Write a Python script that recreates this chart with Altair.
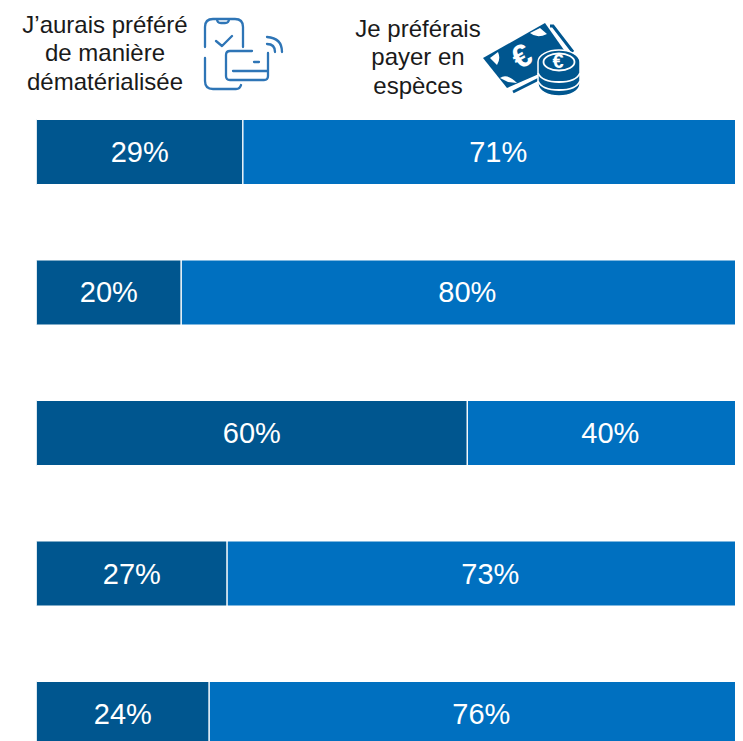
import altair as alt
import pandas as pd

rows = ["Ligne 1", "Ligne 2", "Ligne 3", "Ligne 4", "Ligne 5"]
digital = [28.8, 20.2, 60.1, 26.6, 24.1]
cash = [71.2, 79.8, 39.9, 73.4, 75.9]
series_names = ["J’aurais préféré de manière dématérialisée", "Je préférais payer en espèces"]
colors = ["#00568F", "#0070C0"]
header_left = "J’aurais préféré\nde manière\ndématérialisée"
header_right = "Je préférais\npayer en\nespèces"

FONT = "Liberation Sans"
ICON_LINE = "#2E75B6"
ICON_FILL = "#00568F"


def ellipse(cx, cy, rx, ry):
    k = 0.5523
    return (
        f"M{cx-rx} {cy}C{cx-rx} {cy-k*ry} {cx-k*rx} {cy-ry} {cx} {cy-ry}"
        f"C{cx+k*rx} {cy-ry} {cx+rx} {cy-k*ry} {cx+rx} {cy}"
        f"C{cx+rx} {cy+k*ry} {cx+k*rx} {cy+ry} {cx} {cy+ry}"
        f"C{cx-k*rx} {cy+ry} {cx-rx} {cy+k*ry} {cx-rx} {cy}Z"
    )


# Icon outlines (size=4 makes one path unit equal one pixel)
phone = (
    "M205 47V27Q205 19 213 19H235Q243 19 243 27V47"
    "M217 19Q217 23 221 23H225Q229 23 229 19"
    "M205 58V81Q205 89 213 89H236Q240 89 241 85"
    "M216 41L222 46L232 36"
    "M252 51H230Q226 51 226 55V76Q226 80 230 80H264Q268 80 268 76V53"
    "M233 71H268M254 62H259"
    "M267 37Q282 38 282 52M267 44Q275 44 275 52"
)
back_bill = "M550 26H553L573 52M513 92L541 78"
bill = "M483 58L545 23L571 60L507 88Z"
bill_holes = (
    "M490 58L498 52Q501 59 497 65Z"
    "M530 33L540 28L547 34Q537 39 530 33Z"
    "M500 78Q507 73 517 83L508 82Z"
)
coin_body = (
    "M538 62C538 55 548 50 559 50C570 50 580 55 580 62V84"
    "C580 91 570 96 559 96C548 96 538 91 538 84Z"
)
coin_lines = (
    "M538 73C541 80 550 82 559 82C568 82 577 80 580 73"
    "M538 81C541 88 550 90 559 90C568 90 577 88 580 81"
)
coin_ring = ellipse(559, 62, 15.5, 8.5)

long_df = pd.DataFrame(
    {
        "row": rows * 2,
        "series": [series_names[0]] * 5 + [series_names[1]] * 5,
        "rank": [0] * 5 + [1] * 5,
        "value": digital + cash,
    }
)

x_scale = alt.Scale(domain=[0, 97.43], nice=False, zero=False)
y_scale = alt.Scale(domain=rows, range=[111.4, 738.6], paddingInner=0.536, paddingOuter=0)

base = (
    alt.Chart(long_df)
    .transform_stack(stack="value", as_=["v0", "v1"], groupby=["row"], sort=[alt.SortField("rank")])
    .transform_calculate(mid="(datum.v0 + datum.v1) / 2", label="round(datum.value) + '%'")
)

bars = base.mark_bar(stroke="white", strokeWidth=1.2, clip=True).encode(
    x=alt.X("v0:Q", scale=x_scale, axis=None),
    x2="v1:Q",
    y=alt.Y("row:N", scale=y_scale, axis=None),
    color=alt.Color("series:N", scale=alt.Scale(domain=series_names, range=colors), legend=None),
)

labels = base.mark_text(font=FONT, fontSize=29, color="white", baseline="middle", align="center", dy=1).encode(
    x=alt.X("mid:Q", scale=x_scale, axis=None),
    y=alt.Y("row:N", scale=y_scale, axis=None),
    text="label:N",
)


def header(txt, px, py):
    return (
        alt.Chart(pd.DataFrame({"t": [txt]}))
        .mark_text(font=FONT, fontSize=24, color="#1A1A1A", lineBreak="\n", lineHeight=28.4, align="center", baseline="middle")
        .encode(x=alt.value(px - 36.4), y=alt.value(py - 8), text="t:N")
    )


def icon(path, **kw):
    return (
        alt.Chart(pd.DataFrame({"i": [0]}))
        .mark_point(shape=path, size=4, opacity=1, **kw)
        .encode(x=alt.value(-36.4), y=alt.value(-8))
    )


def glyph(txt, px, py, size, angle=0):
    return (
        alt.Chart(pd.DataFrame({"t": [txt]}))
        .mark_text(font=FONT, fontSize=size, fontWeight="bold", color="white", angle=angle, align="center", baseline="middle")
        .encode(x=alt.value(px - 36.4), y=alt.value(py - 8), text="t:N")
    )


line_style = dict(filled=False, stroke=ICON_LINE, strokeWidth=2.3, strokeCap="round", strokeJoin="round")

chart = alt.layer(
    bars,
    labels,
    header(header_left, 105, 26),
    header(header_right, 418, 30),
    icon(phone, **line_style),
    icon(back_bill, filled=False, stroke=ICON_FILL, strokeWidth=3),
    icon(bill, filled=True, fill=ICON_FILL, strokeWidth=0),
    icon(bill_holes, filled=True, fill="white", strokeWidth=0),
    glyph("€", 522, 57, 32, 330),
    icon(coin_body, filled=True, fill=ICON_FILL, stroke="white", strokeWidth=1.5),
    icon(coin_lines, filled=False, stroke="white", strokeWidth=1.8),
    icon(coin_ring, filled=False, stroke="white", strokeWidth=1.8),
    glyph("€", 558, 62, 20),
).properties(
    width=698.6,
    height=733,
    padding={"left": 28.4, "top": 0, "right": 0, "bottom": 0},
    autosize=alt.AutoSizeParams(type="none"),
).configure_view(stroke=None)

chart.save("out.html", embed_options={"renderer": "svg", "actions": False})
